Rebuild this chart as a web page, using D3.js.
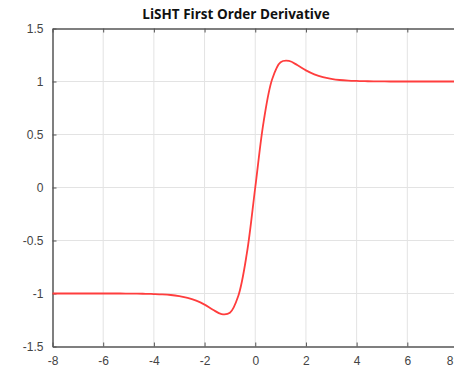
<!DOCTYPE html>
<html>
<head>
<meta charset="utf-8">
<script src="https://cdn.jsdelivr.net/npm/d3@7"></script>
<style>
  body { margin: 0; background: #fff; overflow: hidden; }
  svg { display: block; font-family: "Open Sans", sans-serif; }
</style>
</head>
<body>
<script>
// Sample points (step of about 1/3).
const xs = [-8, -7.67, -7.33, -7, -6.67, -6.33, -6, -5.67, -5.33, -5, -4.67, -4.33, -4,
    -3.67, -3.33, -3, -2.67, -2.33, -2, -1.67, -1.33, -1, -0.67, -0.33, 0,
    0.33, 0.67, 1, 1.33, 1.67, 2, 2.33, 2.67, 3, 3.33, 3.67, 4,
    4.33, 4.67, 5, 5.33, 5.67, 6, 6.33, 6.67, 7, 7.33, 7.67, 8];
const ys = [-1, -1, -1, -1, -1, -1, -1, -1, -1, -1.001, -1.001, -1.003, -1.005,
    -1.008, -1.014, -1.025, -1.041, -1.068, -1.105, -1.153, -1.194, -1.182, -1.023, -0.62, 0,
    0.62, 1.023, 1.182, 1.194, 1.153, 1.105, 1.068, 1.041, 1.025, 1.014, 1.008, 1.005,
    1.003, 1.001, 1.001, 1, 1, 1, 1, 1, 1, 1, 1, 1];

const xTicks = [-8, -6, -4, -2, 0, 2, 4, 6, 8];
const yTicks = [-1.5, -1, -0.5, 0, 0.5, 1, 1.5];
const title = "LiSHT First Order Derivative";

const width = 454;
const height = 368;
const margin = {top: 28.5, right: -4, bottom: 21.5, left: 52.5};

const svg = d3.select('body').append('svg')
    .attr('width', width)
    .attr('height', height);

const x = d3.scaleLinear()
    .domain([-8, 8])
    .range([margin.left, width - margin.right]);

const y = d3.scaleLinear()
    .domain([-1.5, 1.5])
    .range([height - margin.bottom, margin.top]);

const axisColor = '#555';
const textColor = '#444';
const fmt = d => String(d).replace('\u2212', '-');

// grid
svg.append('g')
    .selectAll('line')
    .data(xTicks.slice(1, -1))
    .join('line')
    .attr('x1', d => x(d)).attr('x2', d => x(d))
    .attr('y1', y(1.5)).attr('y2', y(-1.5))
    .attr('stroke', '#e3e3e3').attr('stroke-width', 1);

svg.append('g')
    .selectAll('line')
    .data(yTicks.slice(1, -1))
    .join('line')
    .attr('x1', x(-8)).attr('x2', x(8))
    .attr('y1', d => y(d)).attr('y2', d => y(d))
    .attr('stroke', '#e3e3e3').attr('stroke-width', 1);

// axes with inward ticks
const styleAxis = g => {
    g.select('.domain').attr('stroke', axisColor).attr('stroke-width', 1.5);
    g.selectAll('.tick line').attr('stroke', axisColor);
    g.selectAll('.tick text').attr('fill', textColor).attr('font-size', 12);
};

const bottom = svg.append('g')
    .attr('transform', `translate(0,${y(-1.5)})`)
    .call(d3.axisBottom(x).tickValues(xTicks).tickFormat(fmt)
        .tickSizeInner(-4).tickSizeOuter(0).tickPadding(10))
    .call(styleAxis);
// last label sits on the window edge; keep it inside
bottom.selectAll('.tick text').filter(d => d === 8)
    .attr('text-anchor', 'end')
    .attr('x', width - 1 - x(8));

svg.append('g')
    .attr('transform', `translate(${x(-8)},0)`)
    .call(d3.axisLeft(y).tickValues(yTicks).tickFormat(fmt)
        .tickSizeInner(-4).tickSizeOuter(0).tickPadding(9))
    .call(styleAxis);

svg.append('g')
    .attr('transform', `translate(0,${y(1.5)})`)
    .call(d3.axisTop(x).tickValues(xTicks).tickSizeInner(-4).tickSizeOuter(0).tickFormat(''))
    .call(styleAxis);

svg.append('g')
    .attr('transform', `translate(${x(8)},0)`)
    .call(d3.axisRight(y).tickValues(yTicks).tickSizeInner(-4).tickSizeOuter(0).tickFormat(''))
    .call(styleAxis);

// curve
const line = d3.line()
    .x((d, i) => x(xs[i]))
    .y(d => y(d))
    .curve(d3.curveCatmullRom.alpha(0.5));

svg.append('path')
    .datum(ys)
    .attr('fill', 'none')
    .attr('stroke', '#ff3d3d')
    .attr('stroke-width', 1.8)
    .attr('stroke-linejoin', 'round')
    .attr('d', line);

// title
svg.append('text')
    .attr('x', 236)
    .attr('y', 19)
    .attr('text-anchor', 'middle')
    .attr('font-size', 13.5)
    .attr('font-weight', 'bold')
    .attr('fill', '#111')
    .text(title);
</script>
</body>
</html>
